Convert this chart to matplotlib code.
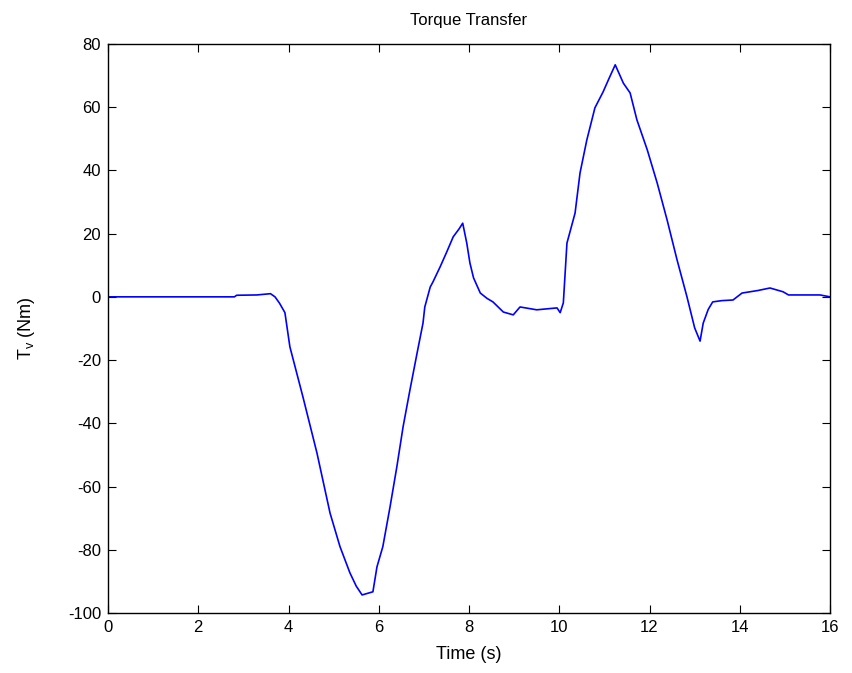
import matplotlib
matplotlib.use("Agg")
import matplotlib.pyplot as plt

# time (s) and transferred torque (Nm)
t = [0.0, 2.8, 2.85, 3.3, 3.6, 3.7, 3.8, 3.92, 4.03, 4.32, 4.63, 4.92, 5.14,
     5.36, 5.5, 5.63, 5.75, 5.87, 5.96, 6.09, 6.25, 6.4, 6.54, 6.69, 6.85,
     6.98, 7.02, 7.14, 7.2, 7.36, 7.5, 7.65, 7.78, 7.86, 7.95, 8.02, 8.1,
     8.25, 8.4, 8.53, 8.76, 8.98, 9.13, 9.5, 9.95, 10.02, 10.09, 10.17,
     10.35, 10.46, 10.61, 10.79, 10.97, 11.1, 11.24, 11.42, 11.57, 11.72,
     11.95, 12.17, 12.39, 12.61, 12.83, 13.0, 13.12, 13.19, 13.3, 13.4,
     13.6, 13.85, 14.05, 14.4, 14.67, 14.96, 15.08, 15.5, 15.78, 16.0]
torque = [0.0, 0.0, 0.5, 0.6, 1.0, 0.0, -2.0, -5.0, -15.8, -31.7, -49.4,
          -68.4, -79.0, -87.3, -91.5, -94.3, -93.8, -93.3, -85.4, -79.0,
          -66.4, -53.8, -41.0, -29.5, -17.7, -8.3, -3.2, 3.1, 4.7, 9.5, 14.0,
          19.0, 21.5, 23.3, 17.0, 10.7, 6.0, 1.2, -0.5, -1.6, -4.8, -5.7,
          -3.2, -4.1, -3.5, -5.0, -1.9, 17.0, 26.5, 39.2, 49.6, 59.8, 64.8,
          69.0, 73.4, 67.6, 64.5, 56.0, 46.5, 36.0, 24.3, 11.7, 0.0, -9.8,
          -14.0, -8.3, -4.0, -1.6, -1.2, -1.0, 1.2, 2.0, 2.8, 1.6, 0.6, 0.6,
          0.6, 0.0]

plt.rcParams['font.family'] = ['Liberation Sans', 'DejaVu Sans']
plt.rcParams['mathtext.default'] = 'regular'
plt.rcParams['axes.unicode_minus'] = False

fig = plt.figure(figsize=(8.52, 6.73), dpi=100)
ax = fig.add_axes([0.1268, 0.0892, 0.8474, 0.8455])
ax.plot(t, torque, color='#0000ff', linewidth=1.2)

ax.set_xlim(0, 16)
ax.set_ylim(-100, 80)
ax.set_xticks(range(0, 17, 2))
ax.set_yticks(range(-100, 81, 20))
ax.tick_params(direction='in', top=True, right=True, length=6, labelsize=12,
               pad=5)
for s in ax.spines.values():
    s.set_linewidth(1.0)

ax.set_title('Torque Transfer', fontsize=12, pad=14)
ax.set_xlabel('Time (s)', fontsize=13, labelpad=8)
ax.set_ylabel('T$_v$ (Nm)', fontsize=13, labelpad=22)

fig.savefig('out.png', dpi=100)
